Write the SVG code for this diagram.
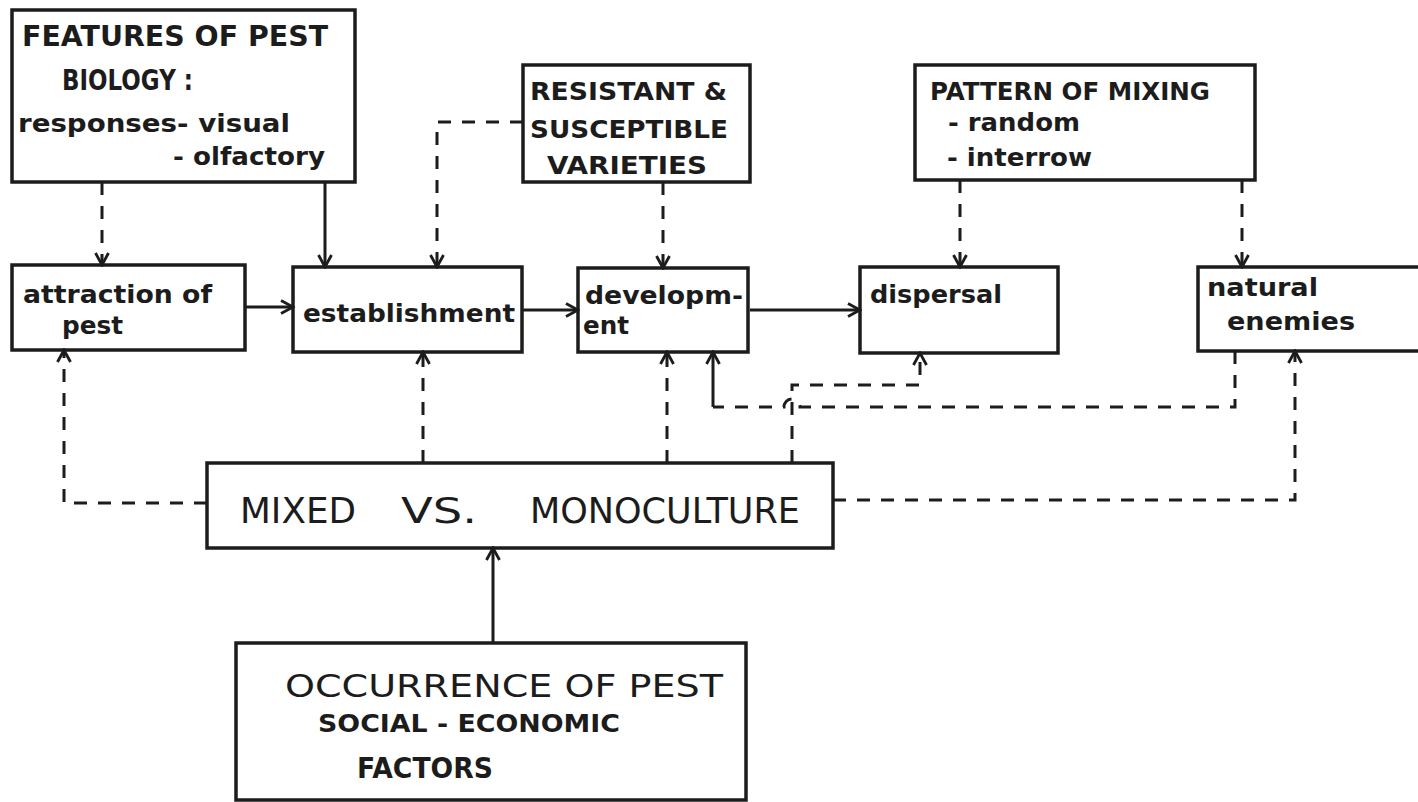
<svg xmlns="http://www.w3.org/2000/svg" width="1418" height="802" viewBox="0 0 1418 802">
<defs>
<style>
.box{fill:#fff;stroke:#1c1c1c;stroke-width:3.5}
.t{font-family:"DejaVu Sans","Liberation Sans",sans-serif;fill:#1c1c1c}
.b{font-weight:bold}
.c{fill:none;stroke:#1c1c1c;stroke-width:3}
.d{stroke-dasharray:13 11}
</style>
<marker id="ah" viewBox="0 0 16 16" refX="14" refY="8" markerWidth="16" markerHeight="16" markerUnits="userSpaceOnUse" orient="auto">
<path d="M2,1.5 L14,8 L2,14.5" fill="none" stroke="#1c1c1c" stroke-width="2.8"/>
</marker>
</defs>
<rect width="1418" height="802" fill="#fff"/>

<g id="features">
<rect class="box" x="12" y="10" width="343" height="172"/>
<text class="t b" x="22" y="46" font-size="28" textLength="306" lengthAdjust="spacingAndGlyphs">FEATURES OF PEST</text>
<text class="t b" x="62" y="90" font-size="28" textLength="131" lengthAdjust="spacingAndGlyphs">BIOLOGY :</text>
<text class="t b" x="18" y="132" font-size="25" textLength="272" lengthAdjust="spacingAndGlyphs">responses- visual</text>
<text class="t b" x="173" y="165" font-size="25" textLength="152" lengthAdjust="spacingAndGlyphs">- olfactory</text>
</g>

<g id="resistant">
<rect class="box" x="523" y="65" width="227" height="117"/>
<text class="t b" x="530" y="100" font-size="25" textLength="197" lengthAdjust="spacingAndGlyphs">RESISTANT &amp;</text>
<text class="t b" x="530" y="138" font-size="25" textLength="198" lengthAdjust="spacingAndGlyphs">SUSCEPTIBLE</text>
<text class="t b" x="547" y="174" font-size="25" textLength="160" lengthAdjust="spacingAndGlyphs">VARIETIES</text>
</g>

<g id="pattern">
<rect class="box" x="915" y="65" width="340" height="115"/>
<text class="t b" x="930" y="100" font-size="25" textLength="280" lengthAdjust="spacingAndGlyphs">PATTERN OF MIXING</text>
<text class="t b" x="948" y="131" font-size="24" textLength="132" lengthAdjust="spacingAndGlyphs">- random</text>
<text class="t b" x="947" y="166" font-size="24" textLength="145" lengthAdjust="spacingAndGlyphs">- interrow</text>
</g>

<g id="attraction">
<rect class="box" x="12" y="265" width="233" height="85"/>
<text class="t b" x="23" y="303" font-size="24" textLength="189" lengthAdjust="spacingAndGlyphs">attraction of</text>
<text class="t b" x="62" y="334" font-size="24" textLength="61" lengthAdjust="spacingAndGlyphs">pest</text>
</g>

<g id="establishment">
<rect class="box" x="293" y="267" width="229" height="85"/>
<text class="t b" x="303" y="322" font-size="24" textLength="212" lengthAdjust="spacingAndGlyphs">establishment</text>
</g>

<g id="development">
<rect class="box" x="578" y="268" width="170" height="84"/>
<text class="t b" x="585" y="304" font-size="24" textLength="158" lengthAdjust="spacingAndGlyphs">developm-</text>
<text class="t b" x="583" y="334" font-size="24" textLength="46" lengthAdjust="spacingAndGlyphs">ent</text>
</g>

<g id="dispersal">
<rect class="box" x="860" y="267" width="198" height="86"/>
<text class="t b" x="870" y="303" font-size="24" textLength="132" lengthAdjust="spacingAndGlyphs">dispersal</text>
</g>

<g id="natural-enemies">
<rect class="box" x="1198" y="267" width="240" height="84"/>
<text class="t b" x="1207" y="296" font-size="24" textLength="111" lengthAdjust="spacingAndGlyphs">natural</text>
<text class="t b" x="1227" y="330" font-size="24" textLength="128" lengthAdjust="spacingAndGlyphs">enemies</text>
</g>

<g id="mixed-vs-monoculture">
<rect class="box" x="207" y="463" width="626" height="85"/>
<text class="t" x="240" y="523" font-size="36" textLength="116" lengthAdjust="spacingAndGlyphs">MIXED</text>
<text class="t" x="401" y="523" font-size="36" textLength="76" lengthAdjust="spacingAndGlyphs">VS.</text>
<text class="t" x="530" y="523" font-size="36" textLength="270" lengthAdjust="spacingAndGlyphs">MONOCULTURE</text>
</g>

<g id="occurrence">
<rect class="box" x="236" y="643" width="510" height="157"/>
<text class="t" x="285" y="697" font-size="32" textLength="438" lengthAdjust="spacingAndGlyphs">OCCURRENCE OF PEST</text>
<text class="t b" x="318" y="732" font-size="25" textLength="302" lengthAdjust="spacingAndGlyphs">SOCIAL - ECONOMIC</text>
<text class="t b" x="357" y="778" font-size="28" textLength="136" lengthAdjust="spacingAndGlyphs">FACTORS</text>
</g>

<g id="connectors">
<path class="c d" d="M102,182 V265" marker-end="url(#ah)"/>
<path class="c" d="M325,182 V267" marker-end="url(#ah)"/>
<path class="c d" d="M523,122 H437 V267" marker-end="url(#ah)"/>
<path class="c d" d="M663,182 V268" marker-end="url(#ah)"/>
<path class="c d" d="M960,180 V267" marker-end="url(#ah)"/>
<path class="c d" d="M1242,180 V267" marker-end="url(#ah)"/>
<path class="c" d="M245,307 H293" marker-end="url(#ah)"/>
<path class="c" d="M522,310 H578" marker-end="url(#ah)"/>
<path class="c" d="M750,310 H860" marker-end="url(#ah)"/>
<path class="c d" d="M207,503 H64 V350" marker-end="url(#ah)"/>
<path class="c d" d="M423,463 V352" marker-end="url(#ah)"/>
<path class="c d" d="M667,463 V352" marker-end="url(#ah)"/>
<path class="c d" d="M1235,351 V407 H800 A8,8 0 0 0 784,407 H713"/>
<path class="c" d="M713,407 V352" marker-end="url(#ah)"/>
<path class="c d" d="M792,463 V385 H920 V353" marker-end="url(#ah)"/>
<path class="c d" d="M833,500 H1295 V351" marker-end="url(#ah)"/>
<path class="c" d="M493,643 V548" marker-end="url(#ah)"/>
</g>
</svg>
